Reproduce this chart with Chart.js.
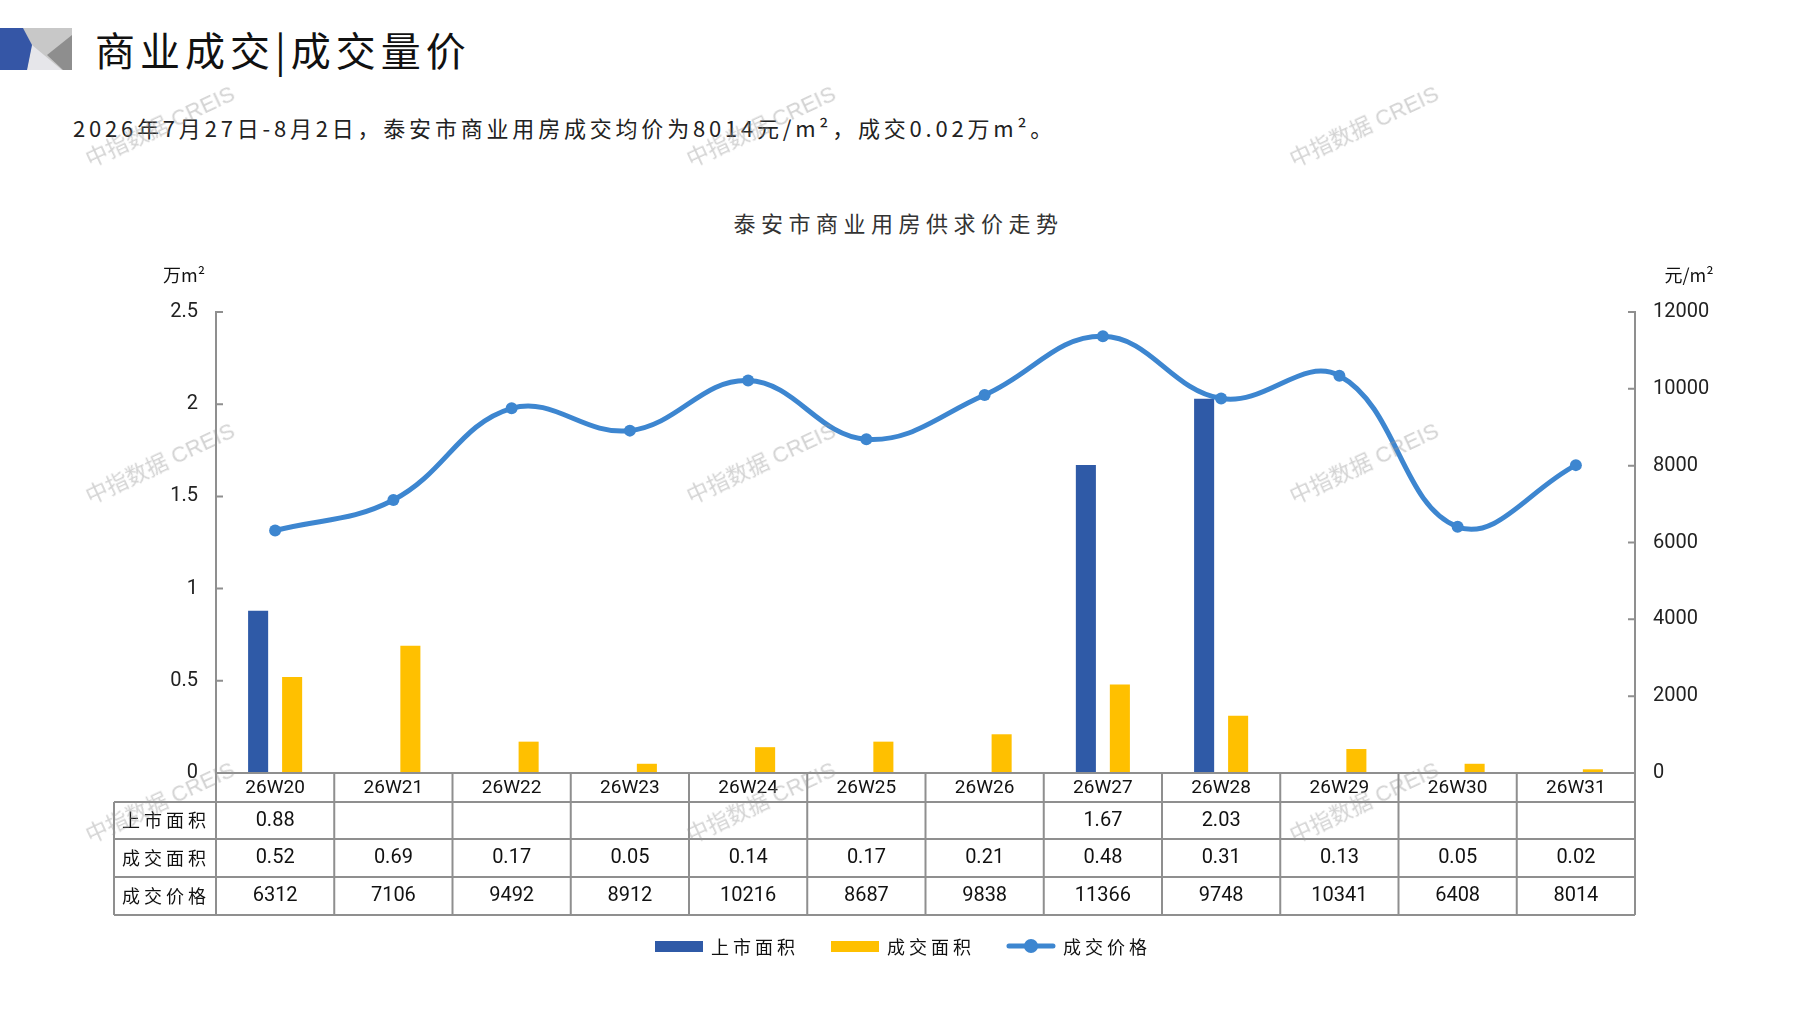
<!DOCTYPE html>
<html lang="zh-CN">
<head>
<meta charset="UTF-8">
<title>商业成交|成交量价</title>
<script src="https://cdn.jsdelivr.net/npm/chart.js@4"></script>
<style>
  html, body { margin: 0; padding: 0; background: #fff; }
  body { width: 1797px; height: 1010px; position: relative; overflow: hidden; font-family: 'Noto Sans CJK SC', sans-serif; }
  .icon { position: absolute; left: 0; top: 28px; width: 72px; height: 42px; }
  .head { position: absolute; left: 95px; top: 21px; margin: 0; font-size: 40px; line-height: 56px; letter-spacing: 5px; font-weight: 400; color: #111; }
  .sub { position: absolute; left: 73px; top: 110px; font-size: 22px; line-height: 34px; letter-spacing: 3.8px; color: #222; }
  .ctitle { position: absolute; left: 0; top: 206px; width: 1797px; text-align: center; font-size: 22px; line-height: 32px; letter-spacing: 5.5px; color: #333; }
  #wrap { position: absolute; left: 0; top: 0; }
  .wm { position: absolute; font-family: 'Liberation Sans', 'Noto Sans CJK SC', sans-serif; font-size: 22px; color: rgba(150,150,150,0.42); transform: translate(-50%, -50%) rotate(-25deg); white-space: nowrap; pointer-events: none; }
</style>
</head>
<body>
<svg class="icon" viewBox="0 0 72 42">
  <rect x="0" y="0" width="72" height="42" fill="#c8c8c8"/>
  <polygon points="32,17 62,42 27,42" fill="#e6e6ea"/>
  <polygon points="47,27 72,7 72,42 63,42" fill="#8e8e8e"/>
  <polygon points="0,0 23,0 32,17 27,42 0,42" fill="#3556a6"/>
</svg>
<h1 class="head">商业成交|成交量价</h1>
<div class="sub">2026年7月27日-8月2日，泰安市商业用房成交均价为8014元/m²，成交0.02万m²。</div>
<div class="ctitle">泰安市商业用房供求价走势</div>

<div id="wrap"><canvas id="chart" width="1797" height="1010"></canvas></div>

<div class="wm" style="left:159px; top:124px;">中指数据 CREIS</div>
<div class="wm" style="left:760px; top:124px;">中指数据 CREIS</div>
<div class="wm" style="left:1363px; top:124px;">中指数据 CREIS</div>
<div class="wm" style="left:159px; top:461px;">中指数据 CREIS</div>
<div class="wm" style="left:760px; top:461px;">中指数据 CREIS</div>
<div class="wm" style="left:1363px; top:461px;">中指数据 CREIS</div>
<div class="wm" style="left:159px; top:800px;">中指数据 CREIS</div>
<div class="wm" style="left:760px; top:800px;">中指数据 CREIS</div>
<div class="wm" style="left:1363px; top:800px;">中指数据 CREIS</div>

<script>
// weekly data, 26W20 - 26W31
const weeks = ['26W20', '26W21', '26W22', '26W23', '26W24', '26W25', '26W26', '26W27', '26W28', '26W29', '26W30', '26W31'];
const supplyArea = [0.88, null, null, null, null, null, null, 1.67, 2.03, null, null, null];   // 上市面积 (万m²)
const dealArea = [0.52, 0.69, 0.17, 0.05, 0.14, 0.17, 0.21, 0.48, 0.31, 0.13, 0.05, 0.02];     // 成交面积 (万m²)
const dealPrice = [6312, 7106, 9492, 8912, 10216, 8687, 9838, 11366, 9748, 10341, 6408, 8014]; // 成交价格 (元/m²)
const seriesNames = ['上市面积', '成交面积', '成交价格'];

const BLUE = '#2f5aa7';
const YELLOW = '#ffc000';
const LINE = '#3d86d0';
const GRID = '#8f8f8f';
const CJK = "'Noto Sans CJK SC', sans-serif";
const NUM = "Roboto, 'Noto Sans CJK SC', sans-serif";

Chart.defaults.font.family = NUM;
Chart.defaults.color = '#222';

// draws the data table under the axis, units, inward ticks and the legend
const tablePlugin = {
  id: 'tablePlugin',
  afterDraw(chart) {
    const {ctx, chartArea, scales} = chart;
    const xs = scales.x, yl = scales.y, yr = scales.y1;
    const left = chartArea.left, right = chartArea.right;
    const colW = xs.getPixelForValue(1) - xs.getPixelForValue(0);
    const headLeft = 114;
    const rowH = [29, 37, 38, 38];
    const ys = [chartArea.bottom];
    rowH.forEach(h => ys.push(ys[ys.length - 1] + h));

    ctx.save();
    ctx.strokeStyle = GRID;
    ctx.lineWidth = 2;
    ctx.beginPath();
    ctx.moveTo(left, ys[0]); ctx.lineTo(right, ys[0]);
    for (let r = 1; r < ys.length; r++) {
      ctx.moveTo(headLeft, ys[r]); ctx.lineTo(right, ys[r]);
    }
    ctx.moveTo(headLeft, ys[1]); ctx.lineTo(headLeft, ys[4]);
    for (let i = 0; i <= weeks.length; i++) {
      const x = left + i * colW;
      ctx.moveTo(x, ys[0]); ctx.lineTo(x, ys[4]);
    }
    // inward ticks
    yl.ticks.forEach(t => {
      const y = yl.getPixelForValue(t.value);
      ctx.moveTo(left, y); ctx.lineTo(left + 7, y);
    });
    yr.ticks.forEach(t => {
      const y = yr.getPixelForValue(t.value);
      ctx.moveTo(right - 7, y); ctx.lineTo(right, y);
    });
    ctx.stroke();

    ctx.fillStyle = '#111';
    ctx.textBaseline = 'middle';
    ctx.textAlign = 'center';
    const mid = r => (ys[r] + ys[r + 1]) / 2;
    weeks.forEach((w, i) => {
      const cx = xs.getPixelForValue(i);
      ctx.font = '19px ' + NUM;
      ctx.fillText(w, cx, mid(0) + 1);
      ctx.font = '20px ' + NUM;
      if (supplyArea[i] != null) ctx.fillText(supplyArea[i].toFixed(2), cx, mid(1));
      ctx.fillText(dealArea[i].toFixed(2), cx, mid(2));
      ctx.fillText(String(dealPrice[i]), cx, mid(3));
    });

    // row headers
    ctx.textAlign = 'left';
    ctx.font = '18px ' + CJK;
    if ('letterSpacing' in ctx) ctx.letterSpacing = '4px';
    seriesNames.forEach((n, r) => ctx.fillText(n, headLeft + 8, mid(r + 1)));

    // axis units
    if ('letterSpacing' in ctx) ctx.letterSpacing = '0px';
    ctx.textAlign = 'center';
    ctx.font = '18px ' + CJK;
    ctx.fillText('万m²', left - 32, chartArea.top - 37);
    ctx.fillText('元/m²', right + 54, chartArea.top - 37);

    // legend
    const ly = 946;
    const boxW = 48, gapBox = 8, gapItem = 32;
    if ('letterSpacing' in ctx) ctx.letterSpacing = '4px';
    ctx.font = '18px ' + CJK;
    const widths = seriesNames.map(n => ctx.measureText(n).width);
    const total = widths.reduce((a, b) => a + b, 0) + 3 * (boxW + gapBox) + 2 * gapItem;
    let x = 903 - total / 2;
    const colors = [BLUE, YELLOW, LINE];
    seriesNames.forEach((n, i) => {
      if (i < 2) {
        ctx.fillStyle = colors[i];
        ctx.fillRect(x, ly - 5, boxW, 11);
      } else {
        ctx.strokeStyle = LINE;
        ctx.lineWidth = 5;
        ctx.lineCap = 'round';
        ctx.beginPath();
        ctx.moveTo(x + 2, ly); ctx.lineTo(x + boxW - 2, ly);
        ctx.stroke();
        ctx.fillStyle = LINE;
        ctx.beginPath();
        ctx.arc(x + boxW / 2, ly, 7, 0, Math.PI * 2);
        ctx.fill();
      }
      x += boxW + gapBox;
      ctx.fillStyle = '#111';
      ctx.textAlign = 'left';
      ctx.fillText(n, x, ly + 1);
      x += widths[i] + gapItem;
    });
    ctx.restore();
  }
};

new Chart(document.getElementById('chart'), {
  type: 'bar',
  data: {
    labels: weeks,
    datasets: [
      {
        type: 'line',
        label: seriesNames[2],
        data: dealPrice,
        yAxisID: 'y1',
        borderColor: LINE,
        backgroundColor: LINE,
        borderWidth: 5,
        tension: 0.4,
        pointRadius: 6,
        pointBorderWidth: 0,
        pointBackgroundColor: LINE,
        order: 0
      },
      {
        label: seriesNames[0],
        data: supplyArea,
        yAxisID: 'y',
        backgroundColor: BLUE,
        categoryPercentage: 0.575,
        barPercentage: 0.59,
        order: 1
      },
      {
        label: seriesNames[1],
        data: dealArea,
        yAxisID: 'y',
        backgroundColor: YELLOW,
        categoryPercentage: 0.575,
        barPercentage: 0.59,
        order: 2
      }
    ]
  },
  options: {
    responsive: false,
    devicePixelRatio: 1,
    animation: false,
    layout: { padding: { top: 312, bottom: 237, left: 0, right: 0 } },
    plugins: {
      legend: { display: false },
      tooltip: { enabled: false },
      title: { display: false }
    },
    scales: {
      x: { display: false },
      y: {
        position: 'left',
        min: 0, max: 2.5,
        ticks: { stepSize: 0.5, padding: 18, font: { size: 20 }, color: '#222', callback: v => String(v) },
        grid: { drawOnChartArea: false, drawTicks: false },
        border: { color: GRID, width: 2 },
        afterFit(s) { s.width = 216; }
      },
      y1: {
        position: 'right',
        min: 0, max: 12000,
        ticks: { stepSize: 2000, padding: 18, font: { size: 20 }, color: '#222', callback: v => String(v) },
        grid: { drawOnChartArea: false, drawTicks: false },
        border: { color: GRID, width: 2 },
        afterFit(s) { s.width = 162; }
      }
    }
  },
  plugins: [tablePlugin]
});
</script>
</body>
</html>
